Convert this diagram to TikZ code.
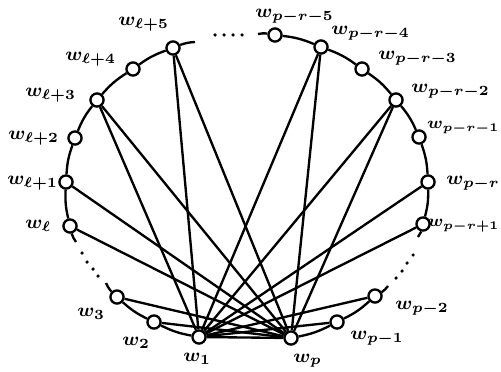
\documentclass[tikz,border=0pt]{standalone}
\usepackage{amsmath}
\usepackage{tikz}
\usetikzlibrary{positioning}

\begin{document}
\begin{tikzpicture}[
  x=0.15mm, y=-0.15mm,
  vtx/.style={circle, draw=black, fill=white, inner sep=0pt, minimum size=5.6pt, line width=1pt},
  lab/.style={font=\footnotesize\boldmath, inner sep=0pt, anchor=west},
  edgelab/.style={font=\fontsize{7.2}{8}\selectfont\boldmath, inner sep=0pt, anchor=east},
  edge/.style={line width=1pt},
  rim/.style={line width=1pt, bend left=8}
]
\useasboundingbox (0,0) rectangle (501,371);

% the rim vertices
\node[vtx] (wl5) at (173,48) {};
\node[vtx] (wl4) at (133,69) {};
\node[vtx] (wl3) at (97,100) {};
\node[vtx] (wl2) at (75,138) {};
\node[vtx] (wl1) at (66,182) {};
\node[vtx] (wl) at (70,226) {};
\node[vtx] (w3) at (117,297) {};
\node[vtx] (w2) at (154,322) {};
\node[vtx] (w1) at (199,337) {};
\node[vtx] (wp) at (291,338) {};
\node[vtx] (wpm1) at (337,322) {};
\node[vtx] (wpm2) at (375,296) {};
\node[vtx] (wprp1) at (423,224) {};
\node[vtx] (wpr) at (428,182) {};
\node[vtx] (wprm1) at (419,137) {};
\node[vtx] (wprm2) at (396,100) {};
\node[vtx] (wprm3) at (362,69) {};
\node[vtx] (wprm4) at (321,47) {};
\node[vtx] (wprm5) at (275,35) {};

% loose ends next to the dots
\coordinate (topL) at (195,42);
\coordinate (topR) at (258,34);
\coordinate (leftU) at (76,242);
\coordinate (leftD) at (106,283);
\coordinate (rightU) at (418,237);
\coordinate (rightD) at (388,286);

% labels
\node[lab] (lwl5) at (118,24) {$w_{\ell+5}$};
\node[lab] (lwl4) at (65,59) {$w_{\ell+4}$};
\node[lab] (lwl3) at (25,95) {$w_{\ell+3}$};
\node[lab] (lwl2) at (8,138) {$w_{\ell+2}$};
\node[lab] (lwl1) at (7,183) {$w_{\ell+1}$};
\node[lab] (lwl) at (25,226) {$w_{\ell}$};
\node[lab] (lw3) at (77,314) {$w_3$};
\node[lab] (lw2) at (122,343) {$w_2$};
\node[lab] (lw1) at (183,359) {$w_1$};
\node[lab] (lwp) at (293,361) {$w_p$};
\node[lab] (lwpm1) at (350,338) {$w_{p-1}$};
\node[lab] (lwpm2) at (395,308) {$w_{p-2}$};
\node[edgelab] (lwprp1) at (500,226) {$w_{p-r+1}$};
\node[lab] (lwpr) at (446,183) {$w_{p-r}$};
\node[edgelab] (lwprm1) at (500,128) {$w_{p-r-1}$};
\node[lab] (lwprm2) at (411,91) {$w_{p-r-2}$};
\node[lab] (lwprm3) at (378,58) {$w_{p-r-3}$};
\node[lab] (lwprm4) at (331,33) {$w_{p-r-4}$};
\node[lab] (lwprm5) at (255,16) {$w_{p-r-5}$};

% dots
\fill (215,35) circle[radius=0.75pt] (224,35) circle[radius=0.75pt] (233,35) circle[radius=0.75pt] (242,35) circle[radius=0.75pt];
\fill (82,253) circle[radius=0.75pt] (87,262) circle[radius=0.75pt] (93,269) circle[radius=0.75pt] (98,276) circle[radius=0.75pt];
\fill (413,255) circle[radius=0.75pt] (407,263) circle[radius=0.75pt] (402,271) circle[radius=0.75pt] (396,278) circle[radius=0.75pt];

% chords, drawn below the vertices
\begin{scope}[on background layer/.try]
\draw[edge] (w1) -- (wl5);
\draw[edge] (w1) -- (wl3);
\draw[edge] (w1) -- (wprm4);
\draw[edge] (w1) -- (wprm2);
\draw[edge] (w1) -- (wpr);
\draw[edge] (w1) -- (wprp1);
\draw[edge] (w1) -- (wpm2);
\draw[edge] (w1) -- (wpm1);
\draw[edge] (w1) -- (wp);
\draw[edge] (wp) -- (wl5);
\draw[edge] (wp) -- (wl3);
\draw[edge] (wp) -- (wl1);
\draw[edge] (wp) -- (wl);
\draw[edge] (wp) -- (w3);
\draw[edge] (wp) -- (w2);
\draw[edge] (wp) -- (wprm4);
\draw[edge] (wp) -- (wprm2);

% the rim
\draw[rim] (wl) to (wl1);
\draw[rim] (wl1) to (wl2);
\draw[rim] (wl2) to (wl3);
\draw[rim] (wl3) to (wl4);
\draw[rim] (wl4) to (wl5);
\draw[rim] (wl5) to (topL);
\draw[rim] (topR) to (wprm5);
\draw[rim] (wprm5) to (wprm4);
\draw[rim] (wprm4) to (wprm3);
\draw[rim] (wprm3) to (wprm2);
\draw[rim] (wprm2) to (wprm1);
\draw[rim] (wprm1) to (wpr);
\draw[rim] (wpr) to (wprp1);
\draw[rim] (wprp1) to (rightU);
\draw[rim] (rightD) to (wpm2);
\draw[rim] (wpm2) to (wpm1);
\draw[rim] (wpm1) to (wp);
\draw[rim] (w1) to (w2);
\draw[rim] (w2) to (w3);
\draw[rim] (w3) to (leftD);
\draw[rim] (leftU) to (wl);
\end{scope}
\end{tikzpicture}
\end{document}
